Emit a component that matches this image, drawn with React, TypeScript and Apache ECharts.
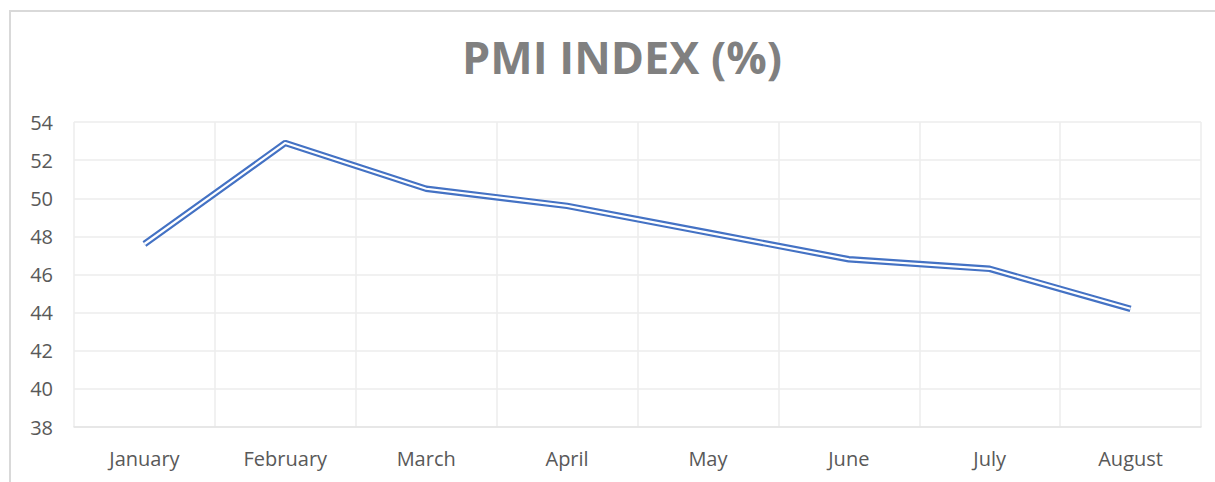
import React, { useEffect, useRef } from "react";
import * as echarts from "echarts";

const categories = ["January", "February", "March", "April", "May", "June", "July", "August"];
const pmiValues = [47.6, 52.9, 50.5, 49.6, 48.2, 46.8, 46.3, 44.2];
const yMin = 38;
const yMax = 54;
const yStep = 2;
const titleText = "PMI INDEX (%)";

export default function App() {
  const ref = useRef<HTMLDivElement>(null);
  useEffect(() => {
    document.body.style.margin = "0";
    const chart = echarts.init(ref.current!, null, { renderer: "svg" });
    const labelFont = "'Open Sans', 'Noto Sans', sans-serif";
    chart.setOption({
      animation: false,
      backgroundColor: "#ffffff",
      title: {
        text: titleText,
        left: 617,
        top: 29,
        textAlign: "center",
        textStyle: {
          fontFamily: labelFont,
          fontWeight: "bold",
          fontSize: 45,
          color: "#808080",
        },
      },
      graphic: [
        {
          type: "rect",
          shape: { x: 10, y: 11, width: 1220, height: 490 },
          style: { fill: "none", stroke: "#d9d9d9", lineWidth: 2 },
          silent: true,
        },
      ],
      grid: { left: 74, right: 14, top: 122, bottom: 55 },
      xAxis: {
        type: "category",
        data: categories,
        boundaryGap: true,
        axisLine: { show: true, lineStyle: { color: "#e3e3e3", width: 1.5 } },
        axisTick: { show: false },
        splitLine: { show: true, lineStyle: { color: "#ececec", width: 1.5 } },
        axisLabel: {
          color: "#595959",
          fontSize: 20,
          fontFamily: labelFont,
          margin: 21,
        },
      },
      yAxis: {
        type: "value",
        min: yMin,
        max: yMax,
        interval: yStep,
        axisLine: { show: false },
        axisTick: { show: false },
        splitLine: { show: true, lineStyle: { color: "#ececec", width: 1.5 } },
        axisLabel: {
          color: "#595959",
          fontSize: 20,
          fontFamily: labelFont,
          margin: 21,
        },
      },
      series: [
        {
          type: "line",
          data: pmiValues,
          symbol: "none",
          lineStyle: { color: "#4472C4", width: 6.5 },
          z: 2,
        },
        {
          type: "line",
          data: pmiValues,
          symbol: "none",
          lineStyle: { color: "#ffffff", width: 2.2 },
          z: 3,
        },
      ],
    });
    return () => chart.dispose();
  }, []);
  return <div ref={ref} style={{ width: 1215, height: 482 }} />;
}
